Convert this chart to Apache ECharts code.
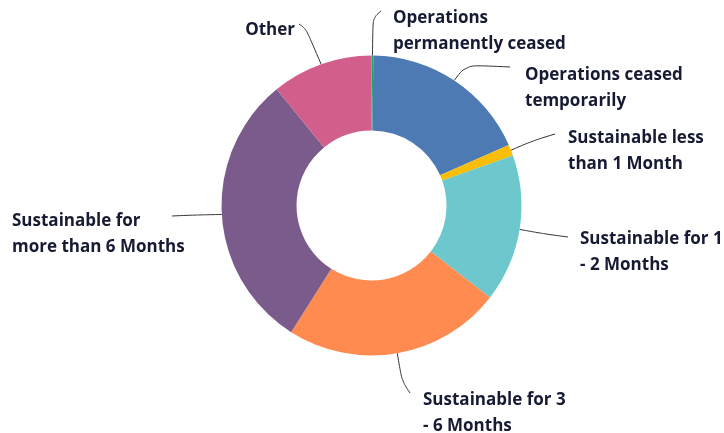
<!DOCTYPE html>
<html>
<head>
<meta charset="utf-8">
<script src="https://cdn.jsdelivr.net/npm/echarts@6/dist/echarts.min.js"></script>
<style>
  html, body { margin: 0; padding: 0; background: #ffffff; }
  #chart { width: 724px; height: 433px; }
</style>
</head>
<body>
<div id="chart"></div>
<script>
// Business sustainability responses (share of respondents, %)
const categories = [
  'Operations permanently ceased',
  'Operations ceased temporarily',
  'Sustainable less than 1 Month',
  'Sustainable for 1 - 2 Months',
  'Sustainable for 3 - 6 Months',
  'Sustainable for more than 6 Months',
  'Other'
];
const values = [0.2, 18.2, 1.2, 15.9, 23.5, 30.1, 10.9];
const labelTexts = [
  'Operations\npermanently ceased',
  'Operations ceased\ntemporarily',
  'Sustainable less\nthan 1 Month',
  'Sustainable for 1\n- 2 Months',
  'Sustainable for 3\n- 6 Months',
  'Sustainable for\nmore than 6 Months',
  'Other'
];
const colors = ['#14a86e', '#4e7ab4', '#f9be0a', '#6cc8cc', '#ff8b50', '#7b5b8b', '#d15e8b'];

// Label placement: text anchor, then the bend and end of each leader line
const labelPlacement = [
  { x: 393, y: 5,   align: 'left',  bend: [373, 18],  end: [381, 11] },
  { x: 525, y: 62,  align: 'left',  bend: [466, 65],  end: [510, 67] },
  { x: 568, y: 125, align: 'left',  bend: [532, 141], end: [555, 134] },
  { x: 580, y: 226, align: 'left',  bend: [545, 234], end: [568, 237] },
  { x: 423, y: 387, align: 'left',  bend: [402, 381], end: [410, 393] },
  { x: 12,  y: 208, align: 'left',  bend: [195, 215], end: [172, 216] },
  { x: 295, y: 17,  align: 'right', bend: [306, 29],  end: [299, 24] }
];

const chart = echarts.init(document.getElementById('chart'), null, { renderer: 'canvas' });

chart.setOption({
  animation: false,
  color: colors,
  series: [{
    type: 'pie',
    center: [371.5, 205.5],
    radius: [75, 150],
    startAngle: 90,
    clockwise: true,
    avoidLabelOverlap: false,
    itemStyle: { borderWidth: 0 },
    label: {
      show: true,
      formatter: (p) => labelTexts[p.dataIndex],
      color: '#161b33',
      fontFamily: 'Open Sans',
      fontWeight: 700,
      fontSize: 17,
      lineHeight: 26
    },
    labelLine: {
      show: true,
      length: 20,
      length2: 20,
      smooth: 0.35,
      lineStyle: { color: '#333333', width: 1 }
    },
    labelLayout: (params) => {
      const pl = labelPlacement[params.dataIndex];
      const start = params.labelLinePoints ? params.labelLinePoints[0] : pl.bend;
      return {
        x: pl.x,
        y: pl.y,
        align: pl.align,
        verticalAlign: 'top',
        labelLinePoints: [start, pl.bend, pl.end]
      };
    },
    data: categories.map((name, i) => ({ name: name, value: values[i] }))
  }]
});
</script>
</body>
</html>
